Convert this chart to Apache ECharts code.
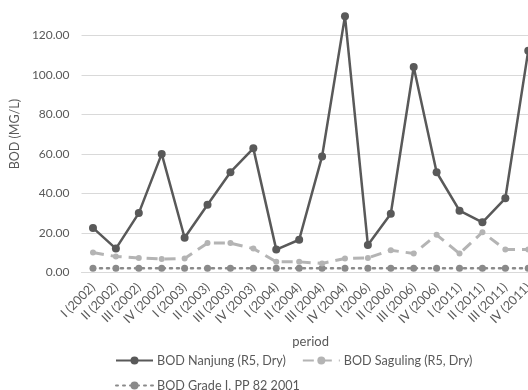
<!DOCTYPE html>
<html>
<head>
<meta charset="utf-8">
<script src="https://cdn.jsdelivr.net/npm/echarts@6/dist/echarts.min.js"></script>
<style>html,body{margin:0;padding:0;background:#fff;overflow:hidden;width:528px;height:390px;}#c{position:absolute;left:0;top:-10px;width:560px;height:400px;}</style>
</head>
<body>
<div id="c"></div>
<script>
var categories = ['I (2002)','II (2002)','III (2002)','IV (2002)','I (2003)','II (2003)','III (2003)','IV (2003)','I (2004)','II (2004)','III (2004)','IV (2004)','I (2006)','II (2006)','III (2006)','IV (2006)','I (2011)','II (2011)','III (2011)','IV (2011)'];
var nanjung = [22.5, 12.0, 30.0, 60.0, 17.5, 34.2, 50.7, 62.8, 11.5, 16.5, 58.7, 129.8, 13.8, 29.7, 104.0, 50.7, 31.2, 25.3, 37.5, 112.3];
var saguling = [10.0, 8.0, 7.3, 6.7, 7.0, 14.8, 14.8, 12.0, 5.3, 5.3, 4.5, 7.0, 7.3, 11.2, 9.5, 19.0, 9.5, 20.3, 11.5, 11.5];
var gradeI = [2, 2, 2, 2, 2, 2, 2, 2, 2, 2, 2, 2, 2, 2, 2, 2, 2, 2, 2, 2];
var yTicks = {min: 0, max: 140, interval: 20};

var FONT = 'Lato, "Liberation Sans", sans-serif';
var OFF = 10; // div is shifted up by this many pixels
var chart = echarts.init(document.getElementById('c'), null, {renderer: 'canvas'});
chart.setOption({
  animation: false,
  textStyle: {fontFamily: FONT},
  grid: {left: 68.7, top: 2.3, width: 471, height: 280, containLabel: false},
  legend: [{
    data: ['BOD Nanjung (R5, Dry)', 'BOD Saguling (R5, Dry)'],
    left: 110, top: 349 + OFF, itemWidth: 37, itemHeight: 10, itemGap: 16,
    textStyle: {fontFamily: FONT, fontSize: 12.6, color: '#595959', padding: [0, 0, 0, -1]}
  }, {
    data: ['BOD Grade I, PP 82 2001'],
    left: 110, top: 374 + OFF, itemWidth: 37, itemHeight: 10,
    textStyle: {fontFamily: FONT, fontSize: 12.6, color: '#595959', padding: [0, 0, 0, -1]}
  }],
  xAxis: {
    type: 'category', data: categories, boundaryGap: true,
    name: 'period', nameLocation: 'middle', nameGap: 63,
    nameTextStyle: {fontFamily: FONT, fontSize: 13, color: '#595959'},
    axisLine: {lineStyle: {color: '#d9d9d9', width: 1}},
    axisTick: {show: false},
    axisLabel: {rotate: 45, interval: 0, fontSize: 12.5, color: '#595959', margin: 13, fontFamily: FONT}
  },
  yAxis: {
    type: 'value', min: yTicks.min, max: yTicks.max, interval: yTicks.interval,
    name: 'BOD (MG/L)', nameLocation: 'middle', nameGap: 41, nameRotate: 90,
    nameTextStyle: {fontFamily: FONT, fontSize: 12.5, color: '#595959'},
    axisLine: {show: false}, axisTick: {show: false},
    axisLabel: {fontSize: 12, color: '#595959', margin: 12, fontFamily: FONT,
      formatter: function (v) { return v.toFixed(2); }},
    splitLine: {lineStyle: {color: '#d9d9d9', width: 1}}
  },
  series: [{
    name: 'BOD Nanjung (R5, Dry)', type: 'line', data: nanjung,
    symbol: 'circle', symbolSize: 8,
    lineStyle: {color: '#595959', width: 2.5},
    itemStyle: {color: '#595959'}, z: 3
  }, {
    name: 'BOD Saguling (R5, Dry)', type: 'line', data: saguling,
    symbol: 'circle', symbolSize: 6,
    lineStyle: {color: '#b4b4b4', width: 3, type: [11, 7]},
    itemStyle: {color: '#b4b4b4'}, z: 2
  }, {
    name: 'BOD Grade I, PP 82 2001', type: 'line', data: gradeI,
    symbol: 'circle', symbolSize: 7,
    lineStyle: {color: '#8a8a8a', width: 2.5, type: [2, 5], cap: 'round'},
    itemStyle: {color: '#8a8a8a'}, z: 1
  }]
});
</script>
</body>
</html>
